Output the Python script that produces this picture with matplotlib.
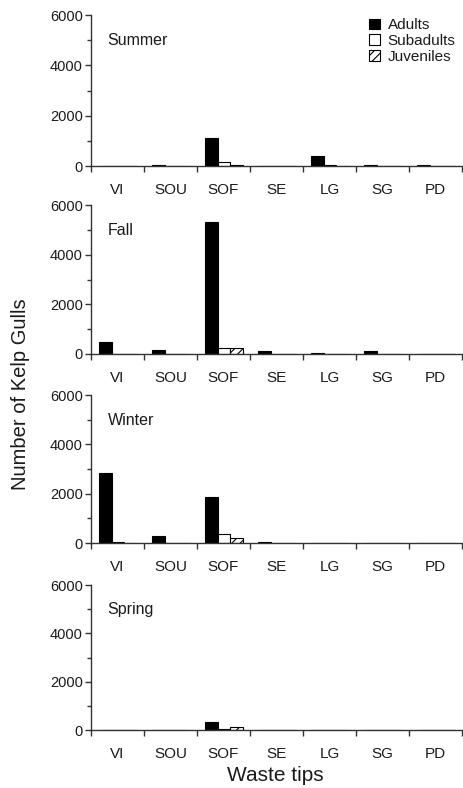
import matplotlib
matplotlib.use("Agg")
import matplotlib.pyplot as plt
import numpy as np

plt.rcParams['font.family'] = ['Liberation Sans', 'DejaVu Sans']
plt.rcParams['hatch.linewidth'] = 0.8
plt.rcParams['text.color'] = '#1a1a1a'
plt.rcParams['xtick.labelcolor'] = '#1a1a1a'
plt.rcParams['ytick.labelcolor'] = '#1a1a1a'

tips = ['VI', 'SOU', 'SOF', 'SE', 'LG', 'SG', 'PD']
seasons = ['Summer', 'Fall', 'Winter', 'Spring']

# counts per season, order follows tips
adults = {
    'Summer': [0, 50, 1120, 0, 380, 40, 40],
    'Fall':   [470, 160, 5320, 100, 50, 100, 0],
    'Winter': [2850, 270, 1850, 50, 0, 0, 0],
    'Spring': [0, 0, 330, 0, 0, 0, 0],
}
subadults = {
    'Summer': [0, 0, 160, 0, 50, 0, 0],
    'Fall':   [0, 0, 260, 0, 0, 0, 0],
    'Winter': [50, 0, 380, 0, 0, 0, 0],
    'Spring': [0, 0, 30, 0, 0, 0, 0],
}
juveniles = {
    'Summer': [0, 0, 60, 0, 0, 0, 0],
    'Fall':   [0, 0, 230, 0, 0, 0, 0],
    'Winter': [0, 0, 220, 0, 0, 0, 0],
    'Spring': [0, 0, 120, 0, 0, 0, 0],
}

fig = plt.figure(figsize=(4.63, 7.88), dpi=100)

# [bottom, height] of each panel in figure fraction
panel_pos = [(0.7893, 0.1916), (0.5508, 0.1890), (0.3109, 0.1878), (0.0736, 0.1840)]

x = np.arange(len(tips))
w = 0.24
for s, (b, h) in zip(seasons, panel_pos):
    ax = fig.add_axes([0.1965, b, 0.801, h])
    ax.bar(x + 0.27, adults[s], w, color='black', edgecolor='black', lw=0.8, label='Adults')
    ax.bar(x + 0.51, subadults[s], w, color='white', edgecolor='black', lw=0.8, label='Subadults')
    ax.bar(x + 0.75, juveniles[s], w, color='white', edgecolor='black', lw=0.8, hatch='////', label='Juveniles')
    ax.set_xlim(0, 7)
    ax.set_ylim(0, 6000)
    ax.set_yticks([0, 2000, 4000, 6000])
    ax.set_yticks([1000, 3000, 5000], minor=True)
    ax.set_xticks(np.arange(0, 8))
    ax.set_xticklabels([])
    ax.set_xticks(x + 0.5, minor=True)
    ax.set_xticklabels(tips, minor=True)
    ax.tick_params(axis='x', which='minor', length=0, pad=12, labelsize=11)
    ax.tick_params(axis='x', which='major', length=4, width=1, direction='out', color='#333333')
    ax.tick_params(axis='y', which='major', length=4, width=1, labelsize=10.5, pad=2, color='#333333')
    ax.tick_params(axis='y', which='minor', length=3, width=1, color='#333333')
    for sp in ['top', 'right']:
        ax.spines[sp].set_visible(False)
    for sp in ['left', 'bottom']:
        ax.spines[sp].set_color('#333333')
        ax.spines[sp].set_linewidth(1)
    ax.text(0.045, 0.83, s, transform=ax.transAxes, fontsize=11.5, ha='left', va='center')
    if s == 'Summer':
        ax.legend(loc='upper right', bbox_to_anchor=(1.02, 1.07), frameon=False, fontsize=11,
                  handlelength=0.7, handleheight=0.7, handletextpad=0.5, labelspacing=0.12)

fig.text(0.045, 0.50, 'Number of Kelp Gulls', rotation=90, ha='center', va='center', fontsize=14.5)
fig.text(0.595, 0.016, 'Waste tips', ha='center', va='center', fontsize=15)

fig.savefig('out.png', dpi=100)
